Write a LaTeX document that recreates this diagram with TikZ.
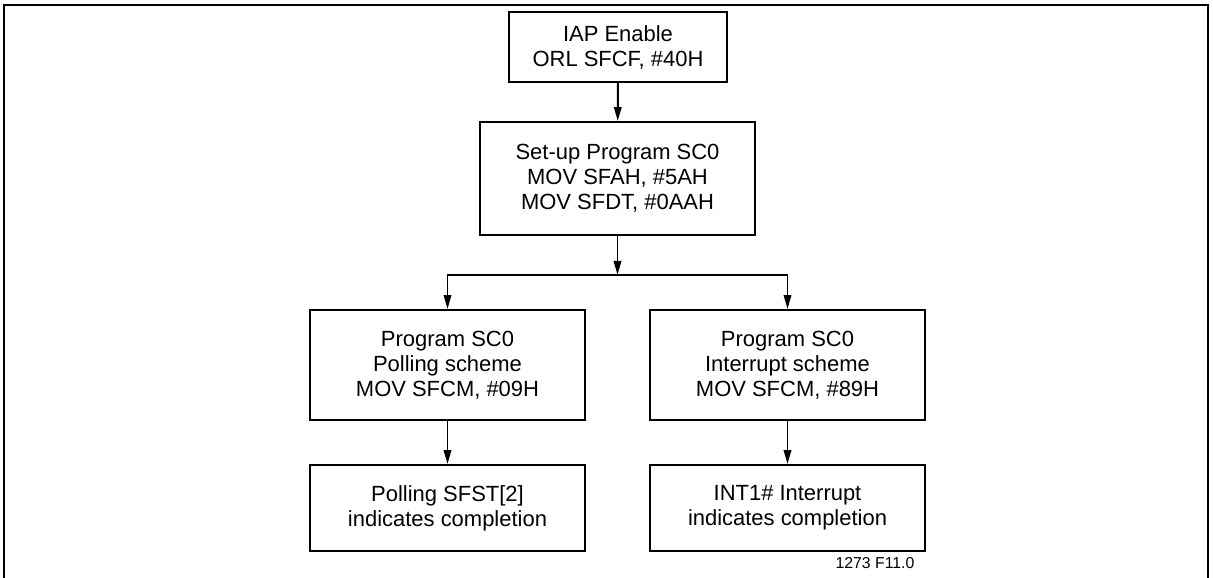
\documentclass[tikz,border=0pt]{standalone}
\usepackage{fontspec}
\setmainfont{Liberation Sans}
\usepackage{tikz}
\usetikzlibrary{arrows.meta, positioning, calc}

\begin{document}
\begin{tikzpicture}[
  fbox/.style={draw, line width=1.1pt, minimum width=5.5cm, align=center, inner sep=0pt, font=\fontsize{12.5}{14.2}\selectfont},
  flow/.style={line width=1.1pt, -{Triangle[length=0.28cm, width=0.15cm]}}
]
  \useasboundingbox (0,0) rectangle (24.26,-11.56);
  % outer frame, open at the bottom
  \draw[line width=1.1pt] (0.08,-11.56) |- (24.16,-0.1) -- (24.16,-11.56);

  \node[fbox, minimum width=4.36cm, minimum height=1.4cm] (iap) at (12.36,-0.94) {IAP Enable\\ORL SFCF, \#40H};
  \node[fbox, minimum height=2.26cm] (setup) at (12.35,-3.57) {Set-up Program SC0\\MOV SFAH, \#5AH\\MOV SFDT, \#0AAH};
  \node[fbox, minimum height=2.2cm] (poll) at (8.95,-7.3) {Program SC0\\Polling scheme\\MOV SFCM, \#09H};
  \node[fbox, minimum height=2.2cm] (intr) at (15.75,-7.3) {Program SC0\\Interrupt scheme\\MOV SFCM, \#89H};
  \node[fbox, minimum height=1.72cm] (pollend) at (8.95,-10.16) {Polling SFST[2]\\indicates completion};
  \node[fbox, minimum height=1.72cm] (intrend) at (15.75,-10.16) {INT1\# Interrupt\\indicates completion};
  \node[font=\fontsize{9}{10}\selectfont] (figno) at (17.5,-11.26) {1273 F11.0};

  \coordinate (split) at ($(setup.south)+(0,-0.78)$);
  \draw[flow] (iap) -- (setup);
  \draw[flow] (setup) -- (split);
  \draw[flow] (split) -| (poll.north);
  \draw[flow] (split) -| (intr.north);
  \draw[flow] (poll) -- (pollend);
  \draw[flow] (intr) -- (intrend);
\end{tikzpicture}
\end{document}
